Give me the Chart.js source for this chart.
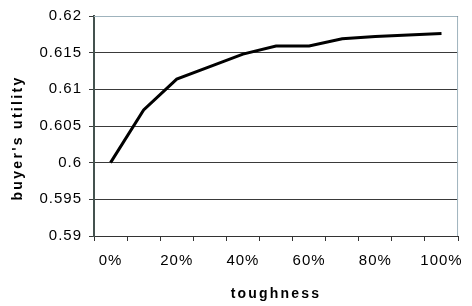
<!DOCTYPE html>
<html>
<head>
<meta charset="utf-8">
<script src="https://cdn.jsdelivr.net/npm/chart.js@4"></script>
<style>
  html, body { margin: 0; padding: 0; background: #fff; }
  #wrap { width: 472px; height: 306px; }
</style>
</head>
<body>
<div id="wrap"><canvas id="chart"></canvas></div>
<script>
const toughness = ["0%", "10%", "20%", "30%", "40%", "50%", "60%", "70%", "80%", "90%", "100%"];
const utility = [0.6, 0.6072, 0.6114, 0.6131, 0.6148, 0.6159, 0.6159, 0.6169, 0.6172, 0.6174, 0.6176];
const yTicks = [0.59, 0.595, 0.6, 0.605, 0.61, 0.615, 0.62];

// excel-ish spacing on the text
const spacing = {
  id: "spacing",
  beforeDraw(chart) {
    chart.ctx.letterSpacing = "1px";
    Object.values(chart.scales).forEach(s => {
      if (s._wrapped) return;
      const orig = s.drawTitle.bind(s);
      s.drawTitle = function () {
        const ctx = this.ctx;
        const prev = ctx.letterSpacing;
        ctx.save();
        if (this.axis === "y") {
          ctx.letterSpacing = "2.3px";
          ctx.translate(0, 12); // title sits a bit low in the original
        } else {
          ctx.letterSpacing = "2.2px";
        }
        orig();
        ctx.restore();
        ctx.letterSpacing = prev;
      };
      s._wrapped = true;
    });
  }
};

// light border on top and right of the plot
const frame = {
  id: "frame",
  afterDraw(chart) {
    const { ctx, chartArea: a } = chart;
    ctx.save();
    ctx.strokeStyle = "#9fb3bd";
    ctx.lineWidth = 1;
    ctx.beginPath();
    ctx.moveTo(a.left, a.top + 0.5);
    ctx.lineTo(a.right - 0.5, a.top + 0.5);
    ctx.lineTo(a.right - 0.5, a.bottom);
    ctx.stroke();
    ctx.restore();
  }
};

new Chart(document.getElementById("chart"), {
  type: "line",
  data: {
    labels: toughness,
    datasets: [{
      data: utility,
      borderColor: "#000",
      borderWidth: 3,
      pointRadius: 0,
      tension: 0,
      fill: false
    }]
  },
  options: {
    responsive: true,
    maintainAspectRatio: false,
    animation: false,
    devicePixelRatio: 1,
    layout: { padding: { left: 0, right: 7, top: 16, bottom: 0 } },
    plugins: { legend: { display: false }, tooltip: { enabled: false } },
    scales: {
      x: {
        offset: true,
        grid: { offset: true, drawOnChartArea: false, drawTicks: true, tickLength: 5, color: "#333" },
        border: { color: "#333", width: 1 },
        ticks: {
          autoSkip: false,
          maxRotation: 0,
          padding: 11,
          color: "#000",
          font: { family: "Liberation Sans", size: 15 },
          callback: (v, i) => (i % 2 ? "" : toughness[i])
        },
        title: {
          display: true,
          text: "toughness",
          color: "#000",
          font: { family: "Liberation Sans", size: 14, weight: "bold" },
          padding: { top: 0, bottom: 3 }
        },
        afterFit: s => { s.height = 70; }
      },
      y: {
        min: 0.59,
        max: 0.62,
        afterBuildTicks: s => { s.ticks = yTicks.map(v => ({ value: v })); },
        grid: { color: "#3a3a3a", tickLength: 5, drawTicks: true },
        border: { color: "#44524f", width: 2 },
        ticks: {
          padding: 7,
          color: "#000",
          font: { family: "Liberation Sans", size: 15 },
          callback: v => String(+v.toFixed(3))
        },
        title: {
          display: true,
          text: "buyer's utility",
          color: "#000",
          font: { family: "Liberation Sans", size: 14, weight: "bold" },
          padding: { top: 10, bottom: 0 }
        },
        afterFit: s => { s.width = 94; }
      }
    }
  },
  plugins: [spacing, frame]
});
</script>
</body>
</html>
